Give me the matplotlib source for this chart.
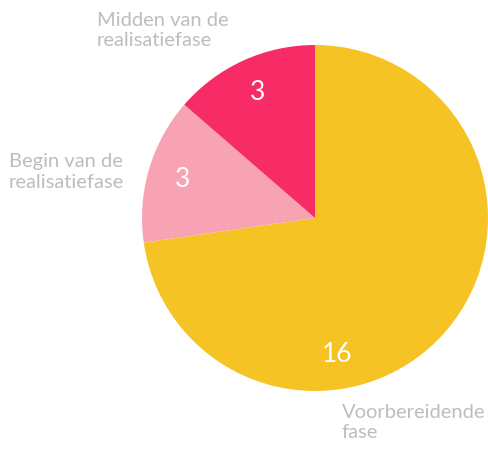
import numpy as np
import matplotlib.pyplot as plt

# Data
phases = ['Voorbereidende\nfase', 'Begin van de\nrealisatiefase', 'Midden van de\nrealisatiefase']
counts = [16, 3, 3]
colors = ['#F5C323', '#F8A3B4', '#F72C67']

W, H = 489, 450
fig = plt.figure(figsize=(W / 100, H / 100), dpi=100)

# pie centre (315, 218) px, radius 173 px
cx, cy, r = 315, 218, 173
ax = fig.add_axes([(cx - r) / W, (H - cy - r) / H, 2 * r / W, 2 * r / H])

wedges, texts, autotexts = ax.pie(
    counts, colors=colors, startangle=90, counterclock=False,
    autopct=lambda p: f'{p * sum(counts) / 100:.0f}', pctdistance=0.8,
    wedgeprops=dict(linewidth=0))
ax.set_xlim(-1, 1)
ax.set_ylim(-1, 1)

for t in autotexts:
    t.set_color('white')
    t.set_fontsize(19)
    t.set_family('Lato')

# the big slice has its number near the bottom
ang = np.deg2rad(-81)
autotexts[0].set_position((0.8 * np.cos(ang), 0.8 * np.sin(ang)))

# category labels, left aligned outside the pie
label_pos = [(342, 404), (9, 153), (97, 12)]
for txt, (px, py) in zip(phases, label_pos):
    fig.text(px / W, 1 - py / H, txt, ha='left', va='top', color='#BDBDBD',
             fontsize=14.5, family='Lato', linespacing=1.25)

plt.savefig('out.png', dpi=100)
